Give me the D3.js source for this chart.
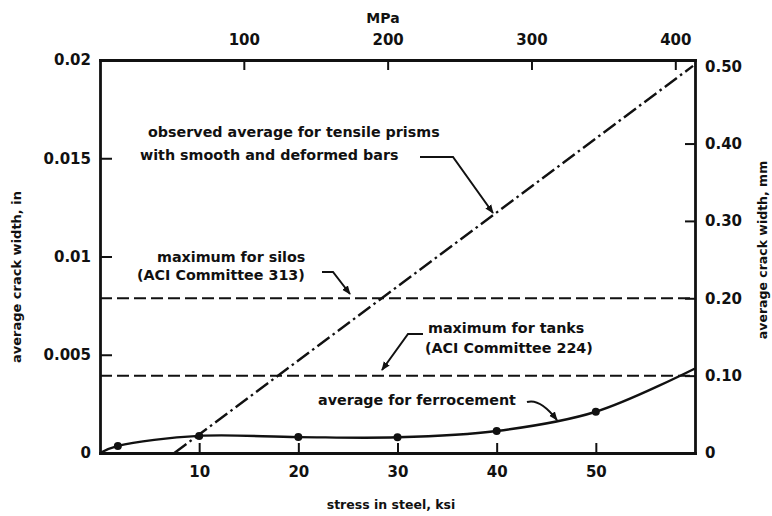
<!DOCTYPE html>
<html>
<head>
<meta charset="utf-8">
<script src="https://cdn.jsdelivr.net/npm/d3@7"></script>
<style>
  html, body { margin: 0; padding: 0; background: #fff; }
  svg text { font-family: "DejaVu Sans", sans-serif; font-weight: bold; fill: #111; }
</style>
</head>
<body>
<div id="chart"></div>
<script>
// crack width vs steel stress, ferrocement vs ACI limits
const ksiTicks = [10, 20, 30, 40, 50];
const mpaTicks = [100, 200, 300, 400];
const inTicks = [0, 0.005, 0.01, 0.015, 0.02];
const inLabels = ['0', '0.005', '0.01', '0.015', '0.02'];
const mmTicks = [0, 0.1, 0.2, 0.3, 0.4, 0.5];
const mmLabels = ['0', '0.10', '0.20', '0.30', '0.40', '0.50'];

// observed average for tensile prisms (ksi, in)
const prismX = [7.5, 59.8];
const prismY = [0, 0.0197];

// ACI limits (mm)
const silosLimit = 0.2;
const tanksLimit = 0.1;

// average for ferrocement (ksi, in); dots on measured points only
const ferroX = [0, 1.8, 10, 20, 30, 40, 50, 60];
const ferroY = [0, 0.00036, 0.00087, 0.00081, 0.0008, 0.00112, 0.0021, 0.0043];
const ferroMeasured = [false, true, true, true, true, true, true, false];

(function(){
  const W = 772, H = 516;
  const svg = d3.select('#chart').append('svg').attr('width', W).attr('height', H);

  const x = d3.scaleLinear().domain([0, 60]).range([100, 695]);
  const xMPa = d3.scaleLinear().domain([0, 60 * 6.895]).range([100, 695]);
  const y = d3.scaleLinear().domain([0, 0.02]).range([453, 60]);
  const yMM = d3.scaleLinear().domain([0, 0.02 * 25.4]).range([453, 60]);

  // arrow marker
  svg.append('defs').append('marker')
    .attr('id', 'arr').attr('viewBox', '0 0 10 10')
    .attr('refX', 9).attr('refY', 5)
    .attr('markerWidth', 9).attr('markerHeight', 9)
    .attr('markerUnits', 'userSpaceOnUse')
    .attr('orient', 'auto')
    .append('path').attr('d', 'M0,1 L10,5 L0,9 Z').attr('fill', '#111');

  // data lines (drawn under axes)
  const lineG = svg.append('g');

  lineG.append('path')
    .datum(prismX.map((v, i) => [v, prismY[i]]))
    .attr('d', d3.line().x(d => x(d[0])).y(d => y(d[1])))
    .attr('fill', 'none').attr('stroke', '#111').attr('stroke-width', 2.4)
    .attr('stroke-dasharray', '15,4,2.5,4');

  [silosLimit, tanksLimit].forEach(v => {
    lineG.append('line')
      .attr('x1', x(0)).attr('x2', x(60))
      .attr('y1', yMM(v)).attr('y2', yMM(v))
      .attr('stroke', '#111').attr('stroke-width', 2)
      .attr('stroke-dasharray', '12,5');
  });

  const ferro = ferroX.map((v, i) => [v, ferroY[i], ferroMeasured[i]]);
  lineG.append('path')
    .datum(ferro)
    .attr('d', d3.line().x(d => x(d[0])).y(d => y(d[1])).curve(d3.curveCatmullRom.alpha(0.5)))
    .attr('fill', 'none').attr('stroke', '#111').attr('stroke-width', 2.4);

  lineG.selectAll('circle.dot')
    .data(ferro.filter(d => d[2]))
    .enter().append('circle')
    .attr('class', 'dot')
    .attr('cx', d => x(d[0])).attr('cy', d => y(d[1]))
    .attr('r', 4).attr('fill', '#111');

  // axes with inward ticks
  const bottom = svg.append('g').attr('transform', `translate(0,${y(0)})`)
    .call(d3.axisBottom(x).tickValues(ksiTicks).tickSizeInner(-10).tickSizeOuter(0).tickPadding(13));
  const top = svg.append('g').attr('transform', `translate(0,${y(0.02)})`)
    .call(d3.axisTop(xMPa).tickValues(mpaTicks).tickSizeInner(-10).tickSizeOuter(0).tickPadding(15));
  const left = svg.append('g').attr('transform', `translate(${x(0)},0)`)
    .call(d3.axisLeft(y).tickValues(inTicks).tickFormat((d, i) => inLabels[i]).tickSizeInner(-12).tickSizeOuter(0).tickPadding(9));
  const right = svg.append('g').attr('transform', `translate(${x(60)},0)`)
    .call(d3.axisRight(yMM).tickValues(mmTicks).tickFormat((d, i) => mmLabels[i]).tickSizeInner(-10).tickSizeOuter(0).tickPadding(10));

  [bottom, top, left, right].forEach(g => {
    g.select('.domain').attr('stroke', '#111').attr('stroke-width', 2.8).attr('stroke-linecap', 'square');
    g.selectAll('.tick line').attr('stroke', '#111').attr('stroke-width', 2);
    g.selectAll('.tick text').attr('font-size', 15).attr('font-family', '"DejaVu Sans", sans-serif').attr('font-weight', 'bold').attr('fill', '#111');
  });
  // no tick mark at the corners
  left.selectAll('.tick').filter(d => d === 0 || d === 0.02).select('line').remove();
  right.selectAll('.tick').filter(d => d === 0 || d === 0.5).select('line').remove();

  // axis titles
  svg.append('text').attr('x', 383).attr('y', 18).attr('text-anchor', 'middle')
    .attr('dominant-baseline', 'central').attr('font-size', 14).text('MPa');
  svg.append('text').attr('x', 391).attr('y', 504).attr('text-anchor', 'middle')
    .attr('dominant-baseline', 'central').attr('font-size', 12.5).text('stress in steel, ksi');
  svg.append('text').attr('transform', 'translate(16,277) rotate(-90)').attr('text-anchor', 'middle')
    .attr('dominant-baseline', 'central').attr('font-size', 13).text('average crack width, in');
  svg.append('text').attr('transform', 'translate(762,250) rotate(-90)').attr('text-anchor', 'middle')
    .attr('dominant-baseline', 'central').attr('font-size', 12.5).text('average crack width, mm');

  // annotations
  const notes = [
    ['observed average for tensile prisms', 148, 132],
    ['with smooth and deformed bars', 140, 155],
    ['maximum for silos', 157, 257],
    ['(ACI Committee 313)', 137, 275],
    ['maximum for tanks', 428, 328],
    ['(ACI Committee 224)', 425, 348],
    ['average for ferrocement', 318, 400]
  ];
  svg.append('g').selectAll('text').data(notes).enter().append('text')
    .attr('x', d => d[1]).attr('y', d => d[2])
    .attr('dominant-baseline', 'central').attr('font-size', 14.3)
    .text(d => d[0]);

  const leader = (d) => svg.append('path').attr('d', d)
    .attr('fill', 'none').attr('stroke', '#111').attr('stroke-width', 2)
    .attr('marker-end', 'url(#arr)');
  leader('M420,157 L453,157 L493,213');
  leader('M322,272 L333,272 L350,294');
  leader('M423,334 L408,334 L382,370');
  leader('M527,402 Q540,398 557,420');
})();
</script>
</body>
</html>
